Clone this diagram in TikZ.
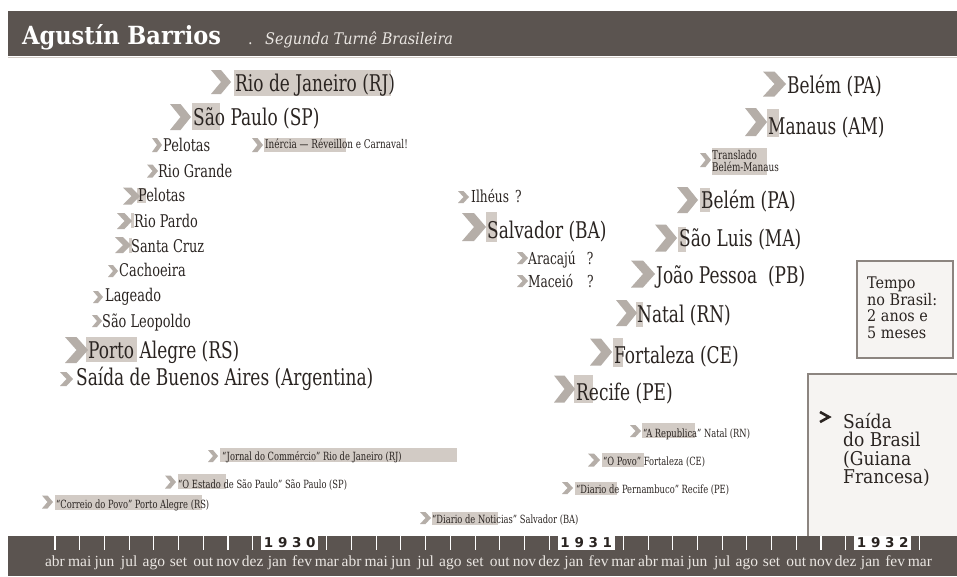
\documentclass[tikz,border=0pt]{standalone}
\usepackage{fontspec}
\newfontfamily\slab[FakeStretch=0.82]{DejaVu Serif Condensed}
\newfontfamily\slabn{DejaVu Serif Condensed}
\newfontfamily\monthfont{Liberation Serif}
\newfontfamily\yearfont{DejaVu Sans}
\definecolor{barcol}{HTML}{5B5450}
\definecolor{hlcol}{HTML}{D2CBC5}
\definecolor{chevcol}{HTML}{B5AEA8}
\definecolor{txt}{HTML}{2A2421}
\definecolor{boxline}{HTML}{8C8580}
\definecolor{boxfill}{HTML}{F6F4F2}
\definecolor{monthcol}{HTML}{EAE6E2}
\newcommand\chv[4]{\fill[chevcol] ({#1},{#2-#4/2}) -- ({#1+0.5*#3},{#2-#4/2}) -- ({#1+#3},{#2}) -- ({#1+0.5*#3},{#2+#4/2}) -- ({#1},{#2+#4/2}) -- ({#1+0.5*#3},{#2}) -- cycle;}
\newcommand\hlbox[4]{\fill[hlcol] (#1,#2) rectangle (#3,#4);}
\tikzset{
  lblbase/.style={inner sep=0pt, anchor=base west, text=txt},
  lblL/.style={lblbase, font=\slab\fontsize{23}{25}\selectfont},
  lblM/.style={lblbase, font=\slab\fontsize{17.5}{19}\selectfont},
  lblS/.style={lblbase, font=\slab\fontsize{16.5}{18}\selectfont},
  lblT/.style={lblbase, font=\slab\fontsize{11.3}{12}\selectfont},
  lblI/.style={lblbase, font=\slab\fontsize{12}{12}\selectfont},
  boxframe/.style={draw=boxline, fill=boxfill, line width=1.2pt},
  month/.style={inner sep=0pt, anchor=base, text=monthcol, font=\monthfont\fontsize{15.5}{16}\selectfont},
  tickline/.style={draw=white, line width=1.1pt},
  yearbox/.style={fill=white, inner sep=0pt, minimum width=57pt, minimum height=14pt, text=txt, font=\yearfont\bfseries\fontsize{13.5}{14}\selectfont},
}
\begin{document}
\begin{tikzpicture}[x=1pt,y=-1pt]
\useasboundingbox (0,0) rectangle (957,576);
\fill[white] (0,0) rectangle (957,576);
% header
\fill[barcol] (8,11) rectangle (957,56);
\draw[hlcol, line width=1pt] (8,57) -- (957,57);
\node[inner sep=0pt, anchor=base west, text=white, font=\slabn\bfseries\fontsize{25}{28}\selectfont] (title) at (22,44) {Agustín Barrios};
\node[inner sep=0pt, anchor=base west, text=monthcol, font=\slabn\fontsize{16}{18}\selectfont] (dot) at (248,44) {.};
\node[inner sep=0pt, anchor=base west, text=monthcol, font=\slabn\itshape\fontsize{16}{18}\selectfont] (sub) at (265,44) {Segunda Turnê Brasileira};
% left column
\hlbox{234}{70}{391}{96}
\chv{211}{82}{20}{24}
\node[lblL] (rj) at (235,91) {Rio de Janeiro (RJ)};
\hlbox{192}{103}{220}{130}
\chv{170}{117}{21}{26}
\node[lblL] (sp) at (193,125) {São Paulo (SP)};
\chv{152}{145}{10}{14}
\node[lblM] (pel1) at (163,151) {Pelotas};
\hlbox{264}{138}{346}{152}
\chv{252}{145}{11}{14}
\node[lblI] (inercia) at (265,148) {Inércia — Réveillon e Carnaval!};
\chv{147}{171}{11}{13}
\node[lblM] (rg) at (158,177) {Rio Grande};
\hlbox{137}{188}{146}{203}
\chv{123}{196}{17}{17}
\node[lblM] (pel2) at (138,201) {Pelotas};
\hlbox{131}{213}{134}{228}
\chv{117}{221}{15}{16}
\node[lblM] (rp) at (134,227) {Rio Pardo};
\hlbox{129}{238}{132}{253}
\chv{115}{245}{16}{16}
\node[lblM] (sc) at (131,252) {Santa Cruz};
\chv{108}{271}{10}{12}
\node[lblM] (cach) at (119,276) {Cachoeira};
\chv{93}{297}{10}{12}
\node[lblM] (lag) at (105,301) {Lageado};
\chv{92}{321}{10}{12}
\node[lblM] (sl) at (102,327) {São Leopoldo};
\hlbox{86}{337}{137}{362}
\chv{65}{350}{23}{26}
\node[lblL] (poa) at (88,358) {Porto Alegre (RS)};
\chv{60}{379}{13}{14}
\node[lblL] (bsas) at (76,385) {Saída de Buenos Aires (Argentina)};
% middle
\chv{458}{197}{11}{12}
\node[lblS] (ilh) at (471,202) {Ilhéus\hspace{6pt}?};
\hlbox{486}{212}{497}{242}
\chv{462}{227}{24}{28}
\node[lblL] (salv) at (487,238) {Salvador (BA)};
\chv{517}{258}{11}{12}
\node[lblS] (ara) at (528,264) {Aracajú\hspace{11pt}?};
\chv{517}{281}{11}{12}
\node[lblS] (mac) at (528,287) {Maceió\hspace{14pt}?};
\hlbox{636}{302}{643}{327}
\chv{616}{313}{21}{26}
\node[lblL] (natal) at (637,322) {Natal (RN)};
\hlbox{613}{338}{623}{367}
\chv{590}{352}{22}{27}
\node[lblL] (fort) at (614,363) {Fortaleza (CE)};
\hlbox{574}{375}{593}{403}
\chv{554}{389}{21}{27}
\node[lblL] (rec) at (576,400) {Recife (PE)};
\chv{631}{274}{24}{27}
\node[lblL] (jp) at (656,283) {João Pessoa\ \ (PB)};
\hlbox{678}{227}{686}{252}
\chv{655}{238}{22}{27}
\node[lblL] (slu) at (679,246) {São Luis (MA)};
\hlbox{700}{188}{710}{212}
\chv{677}{200}{21}{26}
\node[lblL] (bel2) at (701,208) {Belém (PA)};
\hlbox{712}{148}{767}{175}
\chv{700}{160}{11}{14}
\node[lblI] (trans1) at (712,159) {Translado};
\node[lblI] (trans2) at (712,171) {Belém-Manaus};
\hlbox{767}{109}{779}{137}
\chv{745}{122}{22}{28}
\node[lblL] (man) at (768,134) {Manaus (AM)};
\chv{763}{84}{23}{25}
\node[lblL] (bel1) at (787,93) {Belém (PA)};
% boxes
\draw[boxframe] (857,261) rectangle (953,358);
\node[inner sep=0pt, anchor=north west, align=left, text=txt, font=\slabn\fontsize{16}{16.5}\selectfont] (tempo) at (867,277) {Tempo\\no Brasil:\\2 anos e\\5 meses};
\draw[boxframe] (808,374) rectangle (962,545);
\draw[txt, line width=2.6pt] (820,412) -- (829,417) -- (820,422);
\node[inner sep=0pt, anchor=north west, align=left, text=txt, font=\slabn\fontsize{19}{18.5}\selectfont] (saida) at (843,413) {Saída\\do Brasil\\(Guiana\\Francesa)};
% newspapers
\hlbox{220}{448}{457}{462}
\chv{208}{456}{10}{12}
\node[lblT] (jc) at (222,460) {“Jornal do Commércio” Rio de Janeiro (RJ)};
\hlbox{178}{474}{226}{489}
\chv{165}{482}{11}{13}
\node[lblT] (oesp) at (178,488) {“O Estado de São Paulo” São Paulo (SP)};
\hlbox{55}{495}{202}{510}
\chv{42}{502}{11}{13}
\node[lblT] (cp) at (56,508) {“Correio do Povo” Porto Alegre (RS)};
\hlbox{432}{512}{498}{525}
\chv{420}{518}{11}{12}
\node[lblT] (dn) at (432,523) {“Diario de Noticias” Salvador (BA)};
\hlbox{642}{423}{695}{438}
\chv{630}{431}{11}{12}
\node[lblT] (ar) at (643,437) {“A Republica” Natal (RN)};
\hlbox{602}{453}{644}{467}
\chv{588}{460}{12}{13}
\node[lblT] (op) at (603,465) {“O Povo” Fortaleza (CE)};
\hlbox{575}{482}{617}{495}
\chv{562}{488}{11}{12}
\node[lblT] (dp) at (576,493) {“Diario de Pernambuco” Recife (PE)};
% timeline
\fill[barcol] (8,536) rectangle (957,576);
\foreach \m [count=\i from 0] in {abr,mai,jun,jul,ago,set,out,nov,dez,jan,fev,mar,abr,mai,jun,jul,ago,set,out,nov,dez,jan,fev,mar,abr,mai,jun,jul,ago,set,out,nov,dez,jan,fev,mar}{
  \draw[tickline] ({55+24.71*\i},536) -- ({55+24.71*\i},550);
  \node[month] (m\i) at ({55+24.71*\i},566) {\m};
}
\node[yearbox] (y1930) at ({55+24.71*9.5},543) {1 9 3 0};
\node[yearbox] (y1931) at ({55+24.71*21.5},543) {1 9 3 1};
\node[yearbox] (y1932) at ({55+24.71*33.5},543) {1 9 3 2};
\end{tikzpicture}
\end{document}
